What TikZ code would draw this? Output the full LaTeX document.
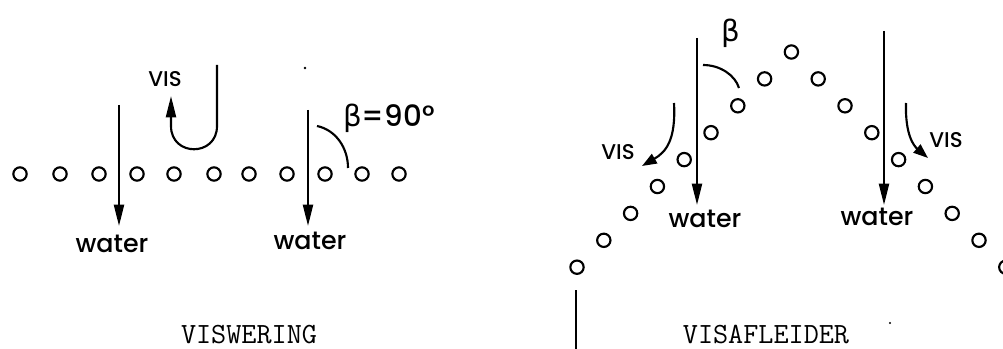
\documentclass[tikz,border=0pt]{standalone}
\usepackage{fontspec}
\newfontfamily\hand{Poppins Medium}
\newfontfamily\grk{DejaVu Sans}
\usetikzlibrary{arrows.meta}
\tikzset{
  hole/.style={circle,draw,line width=1.6pt,minimum size=10pt,inner sep=0pt},
  flow/.style={line width=1.6pt,-{Triangle[length=16pt,width=7.5pt]}},
  curvflow/.style={line width=1.6pt,-{Triangle[length=11pt,width=8pt]}},
  lbl/.style={font=\hand\fontsize{19}{19}\selectfont,inner sep=0pt},
  vislbl/.style={font=\hand\fontsize{16}{16}\selectfont,inner sep=0pt},
  anglbl/.style={font=\hand\fontsize{22}{22}\selectfont,inner sep=0pt},
  caption/.style={font=\ttfamily\fontsize{22}{22}\selectfont,inner sep=0pt,text depth=0pt,anchor=base},
  angarc/.style={line width=1.6pt},
}
\begin{document}
\begin{tikzpicture}[x=0.75pt,y=-0.75pt]
\useasboundingbox (0,0) rectangle (1003,349);
% ---------------- left panel: VISWERING ----------------
\foreach \i/\xx in {1/20,2/60,3/99,4/137,5/174,6/214,7/249,8/287,9/325,10/362,11/399}
  \node[hole] (L\i) at (\xx,174) {};
\coordinate (a1s) at (119,105);
\coordinate (a1e) at (119,226);
\draw[flow] (a1s) -- (a1e);
\coordinate (a2s) at (308,110);
\coordinate (a2e) at (308,226);
\draw[flow] (a2s) -- (a2e);
\node[lbl] (w1) at (112,244) {water};
\node[lbl] (w2) at (310,241) {water};
% U-turn fish
\coordinate (us) at (217,65);
\coordinate (um) at (217,126);
\coordinate (un) at (171,126);
\coordinate (ue) at (171,96);
\draw[line width=1.6pt,-{Triangle[length=16pt,width=7.5pt]}]
  (us) -- (um) .. controls (217,157) and (171,157) .. (un) -- (ue);
\node[vislbl] (v1) at (165,79) {VIS};
% angle
\coordinate (b1s) at (317,126);
\coordinate (b1e) at (348,168);
\draw[angarc] (b1s) .. controls (336,130) and (348,148) .. (b1e);
\node[anglbl,anchor=west] (beta1) at (343,118) {{\grk β}=90°};
\fill (305,68) circle (1pt);
\node[caption] (cap1) at (249,343) {VISWERING};
% ---------------- right panel: VISAFLEIDER ----------------
\foreach \i in {0,...,16}{
  \pgfmathsetmacro{\xx}{577+26.8*\i}
  \pgfmathsetmacro{\yy}{52+26.9*abs(\i-8)}
  \node[hole] (R\i) at (\xx,\yy) {};
}
\coordinate (c1s) at (697,38);
\coordinate (c1e) at (697,205);
\draw[flow] (c1s) -- (c1e);
\coordinate (c2s) at (884,31);
\coordinate (c2e) at (884,205);
\draw[flow] (c2s) -- (c2e);
\node[lbl] (w3) at (705,219) {water};
\node[lbl] (w4) at (877,217) {water};
% vis arrows
\coordinate (d1s) at (674,103);
\coordinate (d1e) at (642,166);
\draw[curvflow] (d1s) .. controls (676,140) and (666,152) .. (d1e);
\coordinate (d2s) at (906,103);
\coordinate (d2e) at (928,158);
\draw[curvflow] (d2s) .. controls (905,135) and (914,146) .. (d2e);
\node[vislbl] (v2) at (618,152) {VIS};
\node[vislbl] (v3) at (946,140) {VIS};
% angle
\coordinate (b2s) at (703,65);
\coordinate (b2e) at (739,88);
\draw[angarc] (b2s) .. controls (720,65) and (735,75) .. (b2e);
\node[anglbl] (beta2) at (731,33) {\grk β};
% divider
\coordinate (dvt) at (576,290);
\coordinate (dvb) at (576,349);
\draw[line width=1.2pt] (dvt) -- (dvb);
\fill (890,323) circle (0.8pt);
\node[caption] (cap2) at (766,343) {VISAFLEIDER};
\end{tikzpicture}
\end{document}
